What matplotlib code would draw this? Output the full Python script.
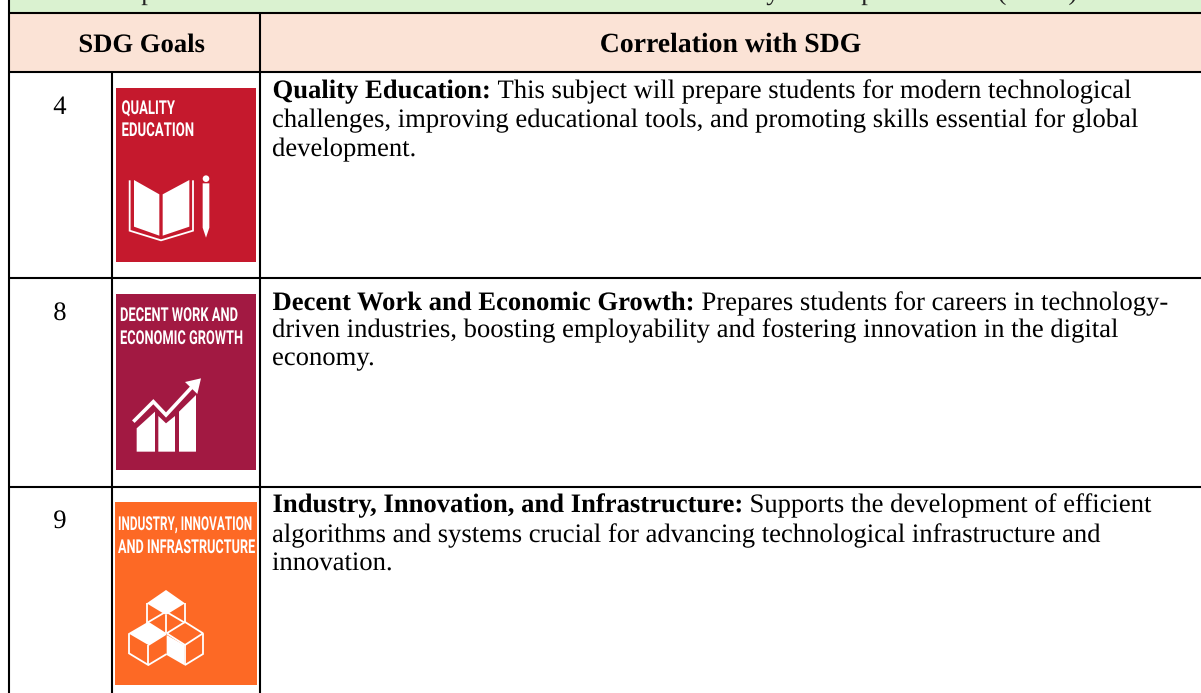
import matplotlib
matplotlib.use("Agg")
import matplotlib.pyplot as plt
from matplotlib.patches import Rectangle, Polygon, Circle
from matplotlib.patheffects import AbstractPathEffect, Normal
from matplotlib.transforms import Affine2D

plt.rcParams["text.hinting"] = "no_hinting"
plt.rcParams["text.hinting_factor"] = 1

W, H = 1201, 693
SERIF = "Liberation Serif"
ICON_FONT = "Roboto"

header_left = "SDG Goals"
header_right = "Correlation with SDG"
goal_numbers = ["4", "8", "9"]
goal_titles = ["Quality Education:", "Decent Work and Economic Growth:", "Industry, Innovation, and Infrastructure:"]
goal_first_lines = ["This subject will prepare students for modern technological",
                    "Prepares students for careers in technology-",
                    "Supports the development of efficient"]
goal_more_lines = [["challenges, improving educational tools, and promoting skills essential for global", "development."],
                   ["driven industries, boosting employability and fostering innovation in the digital", "economy."],
                   ["algorithms and systems crucial for advancing technological infrastructure and", "innovation."]]
cropped_top_glyphs = ["p", "y", "p", "(", ")"]
icon_labels = [["QUALITY", "EDUCATION"], ["DECENT WORK AND", "ECONOMIC GROWTH"], ["INDUSTRY, INNOVATION", "AND INFRASTRUCTURE"]]
icon_colors = ["#C5192D", "#A21942", "#FD6925"]

# layout (pixels)
icon_boxes = [(116, 88, 256, 262), (116, 294, 256, 470), (115, 502, 257, 685)]
row_lines = [72, 278, 487]
line_baselines = [[98, 127, 156], [310, 337, 365], [512, 542, 570]]
first_line_x = [497.5, 701.5, 749.5]
number_baselines = [114, 320, 528]
cropped_top_x = [148, 773, 868, 1002, 1073]
icon_text_x = [[121.5, 121.5], [120, 120], [118, 118]]
icon_text_w = [[53, 72], [117, 122], [133, 136]]
icon_text_y = [[107, 129], [314, 337], [523, 546]]

FS = 19.18
GREEN, PEACH = "#DAF2D0", "#FBE3D6"
SHARP = [Normal()]


class Condense(AbstractPathEffect):
    """Squeeze a text horizontally about a display x position."""
    def __init__(self, anchor, sx):
        super().__init__()
        self.anchor, self.sx = anchor, sx

    def draw_path(self, renderer, gc, tpath, affine, rgbFace=None):
        a = affine + Affine2D().translate(-self.anchor, 0).scale(self.sx, 1).translate(self.anchor, 0)
        renderer.draw_path(gc, tpath, a, rgbFace)


fig = plt.figure(figsize=(W / 100, H / 100), dpi=100)
ax = fig.add_axes([0, 0, 1, 1])
ax.set_xlim(0, W); ax.set_ylim(H, 0); ax.axis("off")
renderer = fig.canvas.get_renderer()


def px(t):
    b = t.get_window_extent(renderer)
    return b.width, ax.transData.inverted().transform((b.x1, 0))[0]


ax.add_patch(Rectangle((9, 0), W - 9, 13, fc=GREEN, ec="none"))
ax.add_patch(Rectangle((9, 13), W - 9, 59, fc=PEACH, ec="none"))


def hl(y, x0=9, x1=W, lw=1.5):
    ax.plot([x0, x1], [y, y], color="black", lw=lw, solid_capstyle="butt")


def vl(x, y0, y1, lw=1.5):
    ax.plot([x, x], [y0, y1], color="black", lw=lw, solid_capstyle="butt")


hl(13)
for y in row_lines:
    hl(y)
vl(9, 0, H)
vl(112.2, 72, H)
vl(259.7, 13, H)

for x, g in zip(cropped_top_x, cropped_top_glyphs):
    ax.text(x, -0.5, g, family=SERIF, fontsize=FS, ha="center", va="baseline", color="#222222", path_effects=SHARP)

ax.text(142.5, 52, header_left, family=SERIF, weight="bold", fontsize=FS, ha="center", va="baseline", path_effects=SHARP)
ax.text(732, 52, header_right, family=SERIF, weight="bold", fontsize=19.98, ha="center", va="baseline", path_effects=SHARP)


def white_poly(pts, o):
    ax.add_patch(Polygon([(o[0] + x / 3, o[1] + y / 3) for x, y in pts], closed=True, fc="white", ec="none"))


def white_line(pts, o, lw=1.3):
    ax.plot([o[0] + x / 3 for x, _ in pts], [o[1] + y / 3 for _, y in pts], color="white", lw=lw,
            solid_joinstyle="miter", solid_capstyle="butt")


for i, n in enumerate(goal_numbers):
    ax.text(60, number_baselines[i], n, family=SERIF, fontsize=FS, ha="center", va="baseline", path_effects=SHARP)
    bl = line_baselines[i]
    ax.text(272.5, bl[0], goal_titles[i], family=SERIF, weight="bold", fontsize=FS, va="baseline", path_effects=SHARP)
    ax.text(first_line_x[i], bl[0], goal_first_lines[i], family=SERIF, fontsize=FS, va="baseline", path_effects=SHARP)
    for k, line in enumerate(goal_more_lines[i]):
        ax.text(272, bl[k + 1], line, family=SERIF, fontsize=FS, va="baseline", path_effects=SHARP)

    x0, y0, x1, y1 = icon_boxes[i]
    ax.add_patch(Rectangle((x0, y0), x1 - x0, y1 - y0, fc=icon_colors[i], ec="none"))
    for k, lab in enumerate(icon_labels[i]):
        t = ax.text(icon_text_x[i][k], icon_text_y[i][k] + 7, lab, family=ICON_FONT, weight="bold",
                    color="white", fontsize=13.8, va="baseline")
        w, _ = px(t)
        anchor = ax.transData.transform((icon_text_x[i][k], 0))[0]
        t.set_path_effects([Condense(anchor, icon_text_w[i][k] / w)])

# Quality education: book and pencil
o = (100, 75)
white_poly([(102, 315), (178, 358), (178, 482), (102, 455)], o)
white_poly([(188, 358), (268, 315), (268, 455), (188, 482)], o)
white_line([(89, 316), (89, 467), (183, 496), (279, 467), (279, 316)], o)
white_poly([(308, 325), (328, 325), (328, 458), (318, 488), (308, 458)], o)
ax.add_patch(Circle((o[0] + 318 / 3, o[1] + 311 / 3), 3.3, fc="white", ec="none"))

# Decent work: bars and arrow
o = (100, 280)
white_poly([(110, 515), (110, 445), (165, 395), (165, 515)], o)
white_poly([(175, 515), (175, 408), (198, 430), (225, 408), (225, 515)], o)
white_poly([(237, 515), (237, 395), (288, 345), (288, 515)], o)
white_line([(100, 425), (160, 365), (198, 405), (275, 322)], o, lw=2.6)
white_poly([(303, 295), (255, 306), (292, 342)], o)

# Industry: cubes
o = (100, 490)
white_poly([(140, 340), (198, 300), (255, 340), (198, 375)], o)
white_poly([(85, 430), (145, 395), (200, 430), (145, 465)], o)
white_poly([(200, 435), (252, 465), (252, 525), (200, 495)], o)
for seg in ([(142, 340), (142, 398)], [(254, 340), (254, 398)], [(198, 375), (198, 430)],
            [(142, 398), (198, 365)], [(198, 365), (254, 398)],
            [(87, 430), (87, 490), (145, 525), (200, 492)], [(145, 465), (145, 525)], [(145, 465), (198, 432)],
            [(200, 430), (255, 396), (309, 430), (255, 465), (200, 430)],
            [(255, 465), (255, 525), (309, 492), (309, 430)]):
    white_line(seg, o)

fig.savefig("out.png", dpi=100)
